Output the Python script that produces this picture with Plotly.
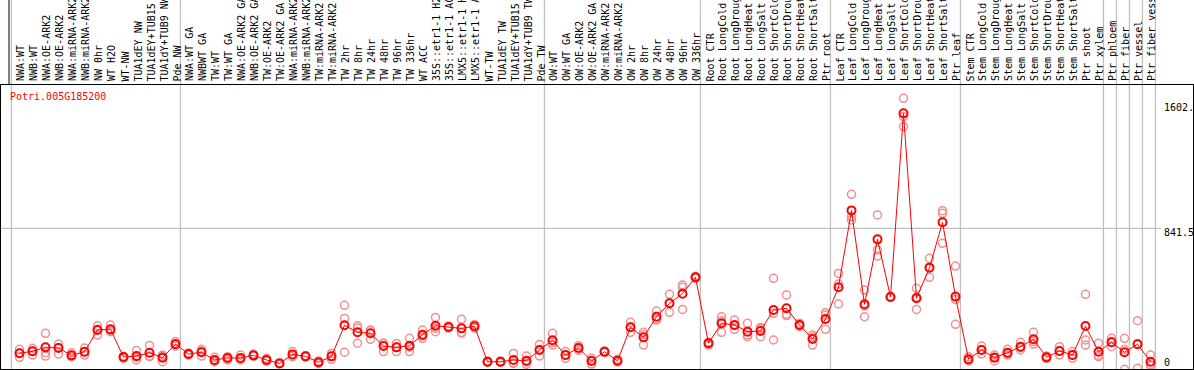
import plotly.graph_objects as go

gene_id = "Potri.005G185200"

group_sizes = [13, 28, 12, 10, 10, 11, 1, 1, 1, 1]

labels = [
    "NWA:WT", "NWB:WT", "NWA:OE-ARK2", "NWB:OE-ARK2", "NWA:miRNA-ARK2", "NWB:miRNA-ARK2",
    "NW 0hr", "WT H2O", "WT-NW", "TUA1dEY NW", "TUA1dEY+TUB15 NW", "TUA1dY+TUB9 NW", "Pde NW",
    "NWA:WT GA", "NWBWT GA", "TW:WT", "TW:WT GA", "NWA:OE-ARK2 GA", "NWB:OE-ARK2 GA",
    "TW:OE-ARK2", "TW:OE-ARK2 GA", "NWA:miRNA-ARK2", "NWB:miRNA-ARK2", "TW:miRNA-ARK2",
    "TW:miRNA-ARK2", "TW 2hr", "TW 8hr", "TW 24hr", "TW 48hr", "TW 96hr", "TW 336hr",
    "WT ACC", "35S::etr1-1 H2O", "35S::etr1-1 ACC", "LMX5::etr1-1 H2O", "LMX5::etr1-1 ACC",
    "WT-TW", "TUA1dEY TW", "TUA1dEY+TUB15 TW", "TUA1dY+TUB9 TW", "Pde TW",
    "OW:WT", "OW:WT GA", "OW:OE-ARK2", "OW:OE-ARK2 GA", "OW:miRNA-ARK2", "OW:miRNA-ARK2",
    "OW 2hr", "OW 8hr", "OW 24hr", "OW 48hr", "OW 96hr", "OW 336hr",
    "Root CTR", "Root LongCold", "Root LongDrought", "Root LongHeat", "Root LongSalt",
    "Root ShortCold", "Root ShortDrought", "Root ShortHeat", "Root ShortSalt", "Ptr root",
    "Leaf CTR", "Leaf LongCold", "Leaf LongDrought", "Leaf LongHeat", "Leaf LongSalt",
    "Leaf ShortCold", "Leaf ShortDrought", "Leaf ShortHeat", "Leaf ShortSalt", "Ptr leaf",
    "Stem CTR", "Stem LongCold", "Stem LongDrought", "Stem LongHeat", "Stem LongSalt",
    "Stem ShortCold", "Stem ShortDrought", "Stem ShortHeat", "Stem ShortSalt", "Ptr shoot",
    "Ptr xylem", "Ptr phloem", "Ptr fiber", "Ptr vessel", "Ptr fiber vessel",
]

means = [
    78, 90, 114, 110, 65, 87, 220, 224, 55, 61, 81, 51, 134,
    73, 84, 37, 49, 49, 65, 37, 16, 71, 59, 23, 59, 249, 206, 200, 122, 114, 124, 191,
    246, 238, 230, 243, 26, 26, 37, 32, 98,
    157, 67, 110, 31, 87, 32, 237, 175, 301, 383, 442, 542,
    139, 261, 251, 210, 214, 342, 353, 251, 165, 287,
    481, 951, 377, 774, 422, 1544, 414, 601, 878, 424,
    41, 98, 51, 81, 118, 163, 53, 92, 67, 244, 87,
    145, 84, 133, 26,
]

rep1 = [
    102, 108, 200, 134, 81, 110, 246, 250, 57, 94, 126, 67, 149,
    80, 102, 53, 57, 67, 73, 47, 20, 88, 63, 31, 77, 371, 246, 220, 138, 138, 169, 220,
    297, 244, 285, 254, 30, 31, 77, 61, 132,
    200, 88, 124, 47, 92, 41, 267, 206, 336, 438, 495, 548,
    128, 301, 281, 261, 236, 536, 434, 262, 189, 326,
    566, 1049, 464, 923, 426, 1636, 475, 658, 949, 611,
    57, 122, 67, 102, 145, 206, 61, 118, 88, 438, 139,
    169, 169, 277, 67,
]
rep2 = [
    53, 67, 61, 73, 57, 67, 189, 210, 47, 37, 57, 26, 122,
    67, 61, 26, 37, 37, 61, 30, 14, 57, 55, 16, 41, 291, 139, 163, 88, 88, 88, 169,
    210, 238, 204, 243, 26, 26, 16, 10, 61,
    128, 47, 110, 12, 87, 30, 206, 128, 281, 328, 481, 536,
    145, 206, 224, 179, 179, 322, 308, 240, 128, 224,
    501, 892, 366, 709, 420, 1524, 421, 542, 933, 255,
    35, 73, 31, 67, 98, 134, 45, 67, 47, 159, 57,
    118, 101, 136, 2,
]
rep3 = [
    78, 92, 81, 112, 57, 85, 224, 214, 59, 53, 61, 59, 132,
    73, 90, 33, 51, 43, 61, 35, 16, 69, 59, 22, 59, 84, 233, 217, 140, 116, 115, 184,
    231, 232, 201, 232, 22, 22, 18, 25, 101,
    143, 66, 96, 34, 82, 25, 238, 191, 286, 383, 346, 542,
    144, 276, 248, 190, 227, 159, 317, 251, 178, 311,
    379, 912, 301, 672, 422, 1463, 346, 603, 750, 406,
    31, 99, 55, 74, 111, 149, 53, 91, 66, 128, 65,
    148, -20, -14, 9,
]

ytick_vals = [0, 841.5, 1602]
ytick_text = ["0", "841.5", "1602."]

W, H = 1194, 370
ML, MR, MT, MB = 1, 1, 85, 1
PW, PH = W - ML - MR, H - MT - MB
COL = 13.0
x0 = -(19.5 - ML) / COL
x1 = x0 + PW / COL
y_lo, y_hi = -18.3, 1717.2

FONT = "DejaVu Sans Mono"
xs = list(range(len(labels)))

fig = go.Figure()
for reps in (rep1, rep2, rep3):
    fig.add_trace(go.Scatter(
        x=xs, y=reps, mode="markers",
        marker=dict(symbol="circle-open", size=8, color="#f09090", line=dict(width=1.5, color="#f09090")),
        hoverinfo="skip", showlegend=False,
    ))
fig.add_trace(go.Scatter(
    x=xs, y=means, mode="lines+markers",
    line=dict(color="#ff0000", width=1),
    marker=dict(symbol="circle-open", size=8, color="#ff0000", line=dict(width=2, color="#ff0000")),
    showlegend=False,
))

shapes = []
bounds = [0]
for s in group_sizes:
    bounds.append(bounds[-1] + s)
top_paper = 1 + MT / PH
for b in bounds:
    shapes.append(dict(type="line", xref="x", yref="paper", x0=b - 0.62, x1=b - 0.62,
                       y0=0, y1=top_paper, line=dict(color="#c0c0c0", width=1.3), layer="below"))
shapes.append(dict(type="line", xref="paper", yref="y", x0=0, x1=(1161 - ML) / PW,
                   y0=ytick_vals[1], y1=ytick_vals[1], line=dict(color="#c0c0c0", width=1.3), layer="below"))
shapes.append(dict(type="line", xref="paper", yref="paper", x0=(9 - ML) / PW, x1=(9 - ML) / PW,
                   y0=1, y1=top_paper, line=dict(color="black", width=1)))

annotations = []
for i, lab in enumerate(labels):
    annotations.append(dict(
        x=i, xref="x", y=1 + (MT - 83.5) / PH, yref="paper",
        text=lab, textangle=-90, showarrow=False, xanchor="center", yanchor="bottom",
        xshift=1, font=dict(family=FONT, size=10, color="black"),
    ))
annotations.append(dict(
    x=(8 - ML) / PW, xref="paper", y=(H - MB - 96.7) / PH, yref="paper", text=gene_id,
    showarrow=False, xanchor="left", yanchor="middle", font=dict(family=FONT, size=10, color="#ff0000"),
))
yshifts = [3.7, -4, -3.5]
for v, t, ys in zip(ytick_vals, ytick_text, yshifts):
    annotations.append(dict(
        x=(1162 - ML) / PW, xref="paper", y=v, yref="y", text=t, yshift=ys,
        showarrow=False, xanchor="left", yanchor="middle", font=dict(family=FONT, size=10, color="black"),
    ))

fig.update_layout(
    width=W, height=H, margin=dict(l=ML, r=MR, t=MT, b=MB, pad=0),
    paper_bgcolor="white", plot_bgcolor="white",
    xaxis=dict(range=[x0, x1], showgrid=False, zeroline=False, showticklabels=False, ticks="",
               showline=True, mirror=True, linecolor="black", linewidth=1),
    yaxis=dict(range=[y_lo, y_hi], showgrid=False, zeroline=False, showticklabels=False, ticks="",
               showline=True, mirror=True, linecolor="black", linewidth=1),
    shapes=shapes, annotations=annotations, showlegend=False,
)
fig.write_html("out.html", config={"displayModeBar": False},
               post_script="document.body.style.margin='0px';document.body.style.overflow='hidden';")
